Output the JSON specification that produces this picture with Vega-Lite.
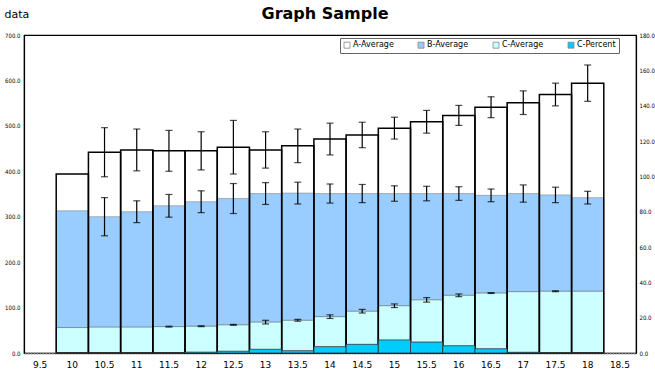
{
  "$schema": "https://vega.github.io/schema/vega-lite/v6.json",
  "width": 612,
  "height": 318,
  "autosize": {"type": "none"},
  "padding": {"left": 24, "top": 35, "right": 19, "bottom": 19},
  "background": "white",
  "title": {"text": "Graph Sample", "fontSize": 16, "fontWeight": "bold", "font": "DejaVu Sans", "color": "black", "anchor": "middle", "offset": -14, "dx": -5},
  "config": {
    "font": "DejaVu Sans",
    "view": {"stroke": "black", "strokeWidth": 1.2},
    "axis": {"grid": false, "labelColor": "black", "tickColor": "black", "domainColor": "black"}
  },
  "data": {"values": [
    {"x": "10", "s": "A-Average", "v": 394, "e": 0},
    {"x": "10.5", "s": "A-Average", "v": 442, "e": 54},
    {"x": "11", "s": "A-Average", "v": 447, "e": 46},
    {"x": "11.5", "s": "A-Average", "v": 445, "e": 45},
    {"x": "12", "s": "A-Average", "v": 445, "e": 42},
    {"x": "12.5", "s": "A-Average", "v": 453, "e": 59},
    {"x": "13", "s": "A-Average", "v": 447, "e": 40},
    {"x": "13.5", "s": "A-Average", "v": 456, "e": 37},
    {"x": "14", "s": "A-Average", "v": 471, "e": 35},
    {"x": "14.5", "s": "A-Average", "v": 480, "e": 28},
    {"x": "15", "s": "A-Average", "v": 495, "e": 24},
    {"x": "15.5", "s": "A-Average", "v": 509, "e": 25},
    {"x": "16", "s": "A-Average", "v": 523, "e": 22},
    {"x": "16.5", "s": "A-Average", "v": 541, "e": 23},
    {"x": "17", "s": "A-Average", "v": 551, "e": 26},
    {"x": "17.5", "s": "A-Average", "v": 569, "e": 25},
    {"x": "18", "s": "A-Average", "v": 594, "e": 40},
    {"x": "10", "s": "B-Average", "v": 313, "e": 0},
    {"x": "10.5", "s": "B-Average", "v": 300, "e": 42},
    {"x": "11", "s": "B-Average", "v": 311, "e": 24},
    {"x": "11.5", "s": "B-Average", "v": 324, "e": 25},
    {"x": "12", "s": "B-Average", "v": 333, "e": 24},
    {"x": "12.5", "s": "B-Average", "v": 340, "e": 33},
    {"x": "13", "s": "B-Average", "v": 351, "e": 24},
    {"x": "13.5", "s": "B-Average", "v": 352, "e": 24},
    {"x": "14", "s": "B-Average", "v": 351, "e": 21},
    {"x": "14.5", "s": "B-Average", "v": 351, "e": 20},
    {"x": "15", "s": "B-Average", "v": 351, "e": 17},
    {"x": "15.5", "s": "B-Average", "v": 351, "e": 16},
    {"x": "16", "s": "B-Average", "v": 351, "e": 15},
    {"x": "16.5", "s": "B-Average", "v": 347, "e": 14},
    {"x": "17", "s": "B-Average", "v": 351, "e": 19},
    {"x": "17.5", "s": "B-Average", "v": 348, "e": 17},
    {"x": "18", "s": "B-Average", "v": 342, "e": 14},
    {"x": "10", "s": "C-Average", "v": 56, "e": 0},
    {"x": "10.5", "s": "C-Average", "v": 57, "e": 0},
    {"x": "11", "s": "C-Average", "v": 57, "e": 0},
    {"x": "11.5", "s": "C-Average", "v": 58, "e": 1},
    {"x": "12", "s": "C-Average", "v": 59, "e": 1},
    {"x": "12.5", "s": "C-Average", "v": 62, "e": 1},
    {"x": "13", "s": "C-Average", "v": 68, "e": 4},
    {"x": "13.5", "s": "C-Average", "v": 72, "e": 2},
    {"x": "14", "s": "C-Average", "v": 80, "e": 4},
    {"x": "14.5", "s": "C-Average", "v": 92, "e": 4},
    {"x": "15", "s": "C-Average", "v": 104, "e": 4},
    {"x": "15.5", "s": "C-Average", "v": 117, "e": 5},
    {"x": "16", "s": "C-Average", "v": 127, "e": 3},
    {"x": "16.5", "s": "C-Average", "v": 132, "e": 1},
    {"x": "17", "s": "C-Average", "v": 135, "e": 0},
    {"x": "17.5", "s": "C-Average", "v": 136, "e": 1},
    {"x": "18", "s": "C-Average", "v": 136, "e": 0},
    {"x": "10", "s": "C-Percent", "v": 0, "e": 0},
    {"x": "10.5", "s": "C-Percent", "v": 0, "e": 0},
    {"x": "11", "s": "C-Percent", "v": 0, "e": 0},
    {"x": "11.5", "s": "C-Percent", "v": 0, "e": 0},
    {"x": "12", "s": "C-Percent", "v": 0.5, "e": 0},
    {"x": "12.5", "s": "C-Percent", "v": 1.0, "e": 0},
    {"x": "13", "s": "C-Percent", "v": 2.1, "e": 0},
    {"x": "13.5", "s": "C-Percent", "v": 1.3, "e": 0},
    {"x": "14", "s": "C-Percent", "v": 3.6, "e": 0},
    {"x": "14.5", "s": "C-Percent", "v": 4.9, "e": 0},
    {"x": "15", "s": "C-Percent", "v": 7.4, "e": 0},
    {"x": "15.5", "s": "C-Percent", "v": 6.2, "e": 0},
    {"x": "16", "s": "C-Percent", "v": 4.1, "e": 0},
    {"x": "16.5", "s": "C-Percent", "v": 2.4, "e": 0},
    {"x": "17", "s": "C-Percent", "v": 0.4, "e": 0},
    {"x": "17.5", "s": "C-Percent", "v": 0.2, "e": 0},
    {"x": "18", "s": "C-Percent", "v": 0, "e": 0}
  ]},
  "encoding": {
    "x": {
      "field": "x", "type": "ordinal",
      "scale": {"domain": ["9.5","10","10.5","11","11.5","12","12.5","13","13.5","14","14.5","15","15.5","16","16.5","17","17.5","18","18.5"], "paddingInner": 0, "paddingOuter": 0},
      "axis": {"title": null, "labelAngle": 0, "labelFontSize": 9, "labelPadding": 7, "ticks": false, "domainColor": "#8a8a8a", "domainWidth": 2, "domainDash": [2, 1]}
    }
  },
  "layer": [
    {
      "encoding": {
        "y": {
          "field": "v", "type": "quantitative",
          "scale": {"domain": [0, 700], "nice": false},
          "axis": {"title": "data", "titleAngle": 0, "titleX": -20, "titleY": -21, "titleAlign": "left", "titleBaseline": "middle", "titleFontSize": 11, "titleFontWeight": "normal", "titleColor": "black", "values": [0,100,200,300,400,500,600,700], "format": ".1f", "labelFontSize": 6, "labelFont": "DejaVu Sans Condensed", "ticks": false, "labelPadding": 4, "domainWidth": 1.2}
        }
      },
      "layer": [
        {
          "transform": [{"filter": "datum.s === 'A-Average'"}],
          "mark": {"type": "bar", "stroke": null},
          "encoding": {"color": {"field": "s", "type": "nominal", "scale": {"domain": ["A-Average","B-Average","C-Average","C-Percent"], "range": ["#FFFFFF","#99CCFF","#CCFFFF","#00CCFF"]},
            "legend": {"title": null, "orient": "none", "legendX": 316, "legendY": 3, "direction": "horizontal", "symbolType": "square", "symbolSize": 36, "symbolStrokeColor": "black", "symbolStrokeWidth": 0.8, "labelFontSize": 8, "labelColor": "black", "columnPadding": 22, "padding": 3, "strokeColor": "#666666", "fillColor": "white", "labelOffset": 2}}}
        },
        {
          "transform": [{"filter": "datum.s === 'B-Average'"}],
          "mark": {"type": "bar", "stroke": "#888888", "strokeWidth": 0.6},
          "encoding": {"color": {"field": "s", "type": "nominal"}}
        },
        {
          "transform": [{"filter": "datum.s === 'C-Average'"}],
          "mark": {"type": "bar", "stroke": "#555555", "strokeWidth": 0.6},
          "encoding": {"color": {"field": "s", "type": "nominal"}}
        },
        {
          "transform": [{"filter": "datum.s === 'A-Average'"}],
          "mark": {"type": "bar", "fill": null, "fillOpacity": 0, "stroke": "black", "strokeWidth": 1.5}
        },
        {
          "transform": [{"filter": "datum.s !== 'C-Percent' && datum.e > 0"}],
          "mark": {"type": "errorbar", "ticks": {"size": 7, "color": "black", "thickness": 1.2}, "rule": {"color": "black", "strokeWidth": 1.2}},
          "encoding": {"yError": {"field": "e"}}
        }
      ]
    },
    {
      "transform": [{"filter": "datum.s === 'C-Percent'"}],
      "mark": {"type": "bar", "stroke": "#333333", "strokeWidth": 0.8},
      "encoding": {
        "y": {
          "field": "v", "type": "quantitative",
          "scale": {"domain": [0, 180], "nice": false},
          "axis": {"orient": "right", "title": null, "values": [0,20,40,60,80,100,120,140,160,180], "format": ".1f", "labelFontSize": 6, "labelFont": "DejaVu Sans Condensed", "ticks": false, "labelPadding": 3, "domainWidth": 1.2}
        },
        "color": {"field": "s", "type": "nominal"}
      }
    }
  ],
  "resolve": {"scale": {"y": "independent"}}
}
